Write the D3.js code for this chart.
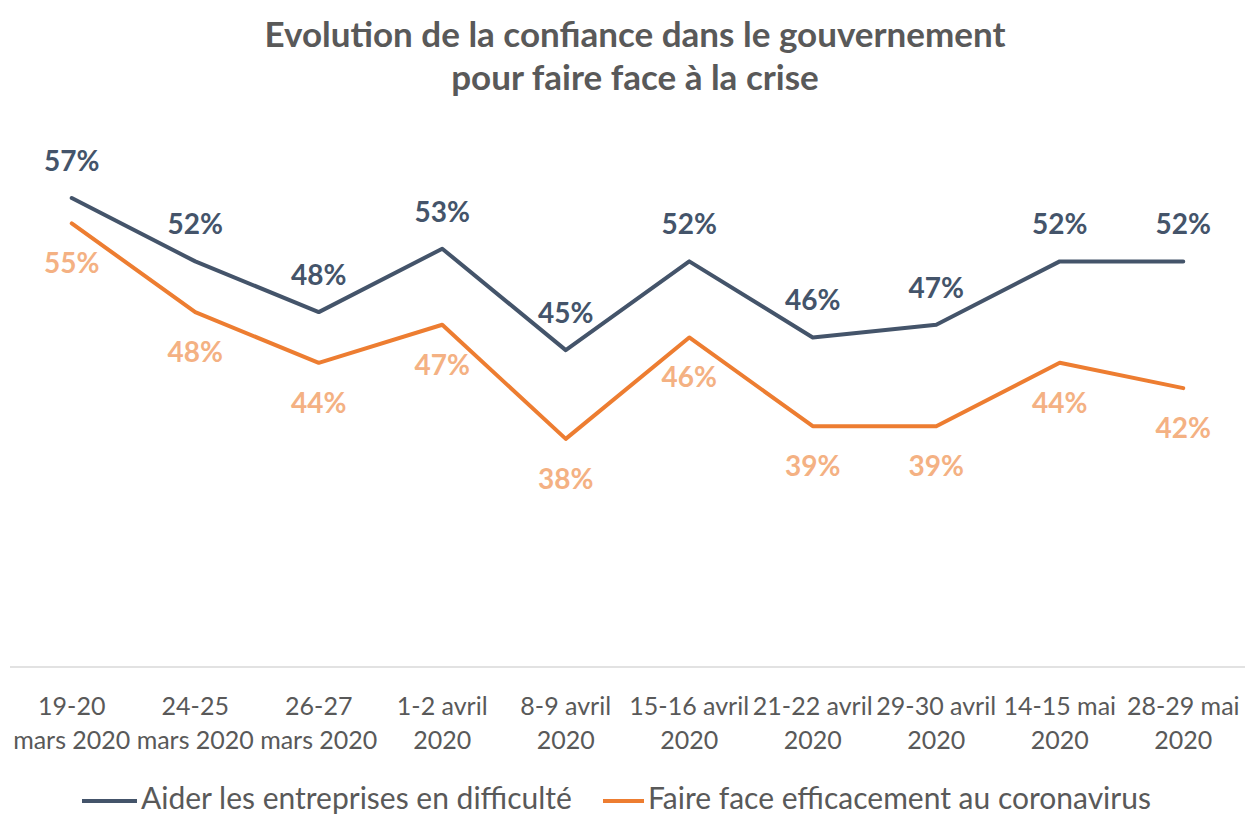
<!DOCTYPE html>
<html><head><meta charset="utf-8">
<script src="https://cdn.jsdelivr.net/npm/d3@7"></script>
<style>body{margin:0;background:#fff;} svg{display:block;font-family:Lato,"Open Sans",sans-serif;}</style>
</head><body><svg id="c" width="1245" height="817"></svg>
<script>
const categories = [["19-20","mars 2020"],["24-25","mars 2020"],["26-27","mars 2020"],["1-2 avril","2020"],["8-9 avril","2020"],["15-16 avril","2020"],["21-22 avril","2020"],["29-30 avril","2020"],["14-15 mai","2020"],["28-29 mai","2020"]];
const aider = [57,52,48,53,45,52,46,47,52,52];
const faireFace = [55,48,44,47,38,46,39,39,44,42];
const seriesNames = ["Aider les entreprises en difficulté","Faire face efficacement au coronavirus"];
const titleLines = ["Evolution de la confiance dans le gouvernement","pour faire face à la crise"];

const svg = d3.select("#c");
const x = d3.scaleBand().domain(d3.range(categories.length)).range([10,1245]);
const y = d3.scaleLinear().domain([20,60]).range([667,160]);
const cx = i => x(i) + x.bandwidth()/2;

svg.selectAll(".title").data(titleLines).enter().append("text")
  .attr("x",635).attr("y",(d,i)=>47+i*43).attr("text-anchor","middle")
  .attr("font-size",35).attr("font-weight","bold").attr("fill","#595959").text(d=>d);

svg.append("line").attr("x1",10).attr("x2",1245).attr("y1",y(20)).attr("y2",y(20))
  .attr("stroke","#d9d9d9").attr("stroke-width",1.5);

const xl = svg.selectAll(".xl").data(categories).enter().append("text")
  .attr("text-anchor","middle").attr("font-size",25).attr("fill","#595959");
xl.append("tspan").attr("x",(d,i)=>cx(i)).attr("y",715).text(d=>d[0]);
xl.append("tspan").attr("x",(d,i)=>cx(i)).attr("y",749).text(d=>d[1]);

const line = d3.line().x((d,i)=>cx(i)).y(d=>y(d));
const series = [
  {vals:aider, color:"#44546A", label:"#44546A", dy:-27},
  {vals:faireFace, color:"#ED7D31", label:"#F4B183", dy:50}
];
series.forEach(s=>{
  svg.append("path").attr("d",line(s.vals)).attr("fill","none").attr("stroke",s.color)
    .attr("stroke-width",4).attr("stroke-linejoin","round").attr("stroke-linecap","round");
  svg.selectAll(null).data(s.vals).enter().append("text")
    .attr("x",(d,i)=>cx(i)).attr("y",d=>y(d)+s.dy).attr("text-anchor","middle")
    .attr("font-size",28).attr("font-weight","bold").attr("fill",s.label).text(d=>d+"%");
});

const legend = [{x1:82,x2:137,tx:141,color:"#44546A"},{x1:603,x2:644,tx:648,color:"#ED7D31"}];
legend.forEach((l,i)=>{
  svg.append("line").attr("x1",l.x1).attr("x2",l.x2).attr("y1",801).attr("y2",801)
    .attr("stroke",l.color).attr("stroke-width",4);
  svg.append("text").attr("x",l.tx).attr("y",809).attr("font-size",30).attr("fill","#595959").text(seriesNames[i]);
});
</script></body></html>
